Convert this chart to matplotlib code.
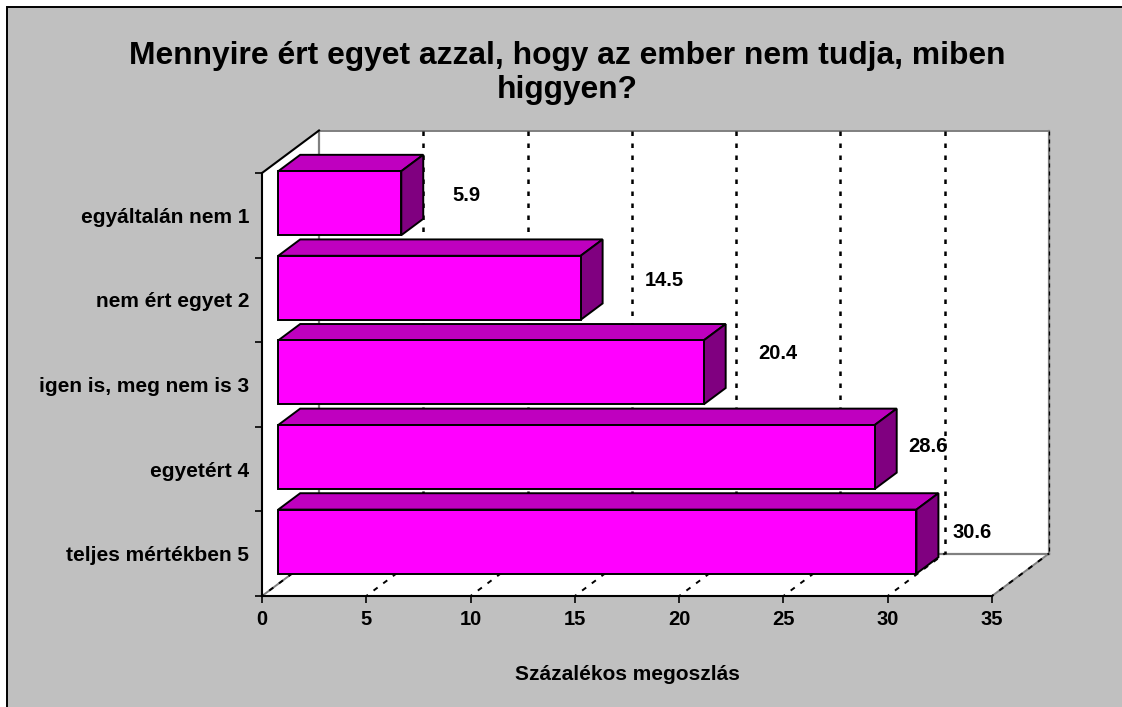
import matplotlib
matplotlib.use('Agg')
import matplotlib.pyplot as plt
from matplotlib.patches import Polygon, Rectangle

plt.rcParams['font.family'] = ['Liberation Sans', 'DejaVu Sans']
plt.rcParams['font.weight'] = 'bold'

kategoriak = ['egyáltalán nem 1', 'nem ért egyet 2', 'igen is, meg nem is 3', 'egyetért 4', 'teljes mértékben 5']
ertekek = [5.9, 14.5, 20.4, 28.6, 30.6]
x_osztas = [0, 5, 10, 15, 20, 25, 30, 35]
cim = 'Mennyire ért egyet azzal, hogy az ember nem tudja, miben\nhiggyen?'
x_cim = 'Százalékos megoszlás'

W, H = 1122, 707
LILA = '#FF00FF'
LILA_TETO = '#BF00BF'
LILA_OLDAL = '#800080'
SZURKE = '#C0C0C0'
VONAL = '#808080'

fig = plt.figure(figsize=(W / 100, H / 100), dpi=100, facecolor='white')
# keret: csak bal es felso oldalon latszik
fig.add_artist(Rectangle((7 / W, -0.05), 1.1, 1.05 - 7 / H, transform=fig.transFigure,
                         facecolor=SZURKE, edgecolor='black', linewidth=1.4, zorder=-5))

ax = fig.add_axes([262 / W, 1 - 596 / H, 730 / W, 423 / H], facecolor='none')
ax.set_xlim(0, 35)
ax.set_ylim(5, 0)

# 3D eltolas adategysegben
dx, dy = 57 / (730 / 35), -42.5 / (423 / 5)
n = len(kategoriak)


def lap(pontok, szin, el='black', lw=1.4, z=2):
    ax.add_patch(Polygon(pontok, closed=True, facecolor=szin, edgecolor=el, linewidth=lw,
                         clip_on=False, zorder=z, joinstyle='miter'))


# falak es padlo
lap([(dx, dy), (35 + dx, dy), (35 + dx, n + dy), (dx, n + dy)], 'white', el='none', z=1)
lap([(0, 0), (dx, dy), (dx, n + dy), (0, n)], 'white', el='none', z=1)
lap([(0, n), (35, n), (35 + dx, n + dy), (dx, n + dy)], 'white', el='none', z=1)

# szurke szelek
ax.plot([dx, dx, 35 + dx], [dy, n + dy, n + dy], color=VONAL, lw=1.6, clip_on=False, zorder=1.4)
ax.plot([dx, 35 + dx], [dy, dy], color=VONAL, lw=1.4, clip_on=False, zorder=1.4)
ax.plot([35 + dx, 35 + dx], [dy, n + dy], color=VONAL, lw=1.6, clip_on=False, zorder=1.4)
ax.plot([0, dx], [n, n + dy], color=VONAL, lw=1.4, clip_on=False, zorder=1.4)
ax.plot([35, 35 + dx], [n, n + dy], color=VONAL, lw=1.4, clip_on=False, zorder=1.4)
ax.plot([0, dx], [0, dy], color='black', lw=1.5, clip_on=False, zorder=1.6)

# racsvonalak
for v in x_osztas:
    if v > 0:
        vas, minta = (0.9, (3.2, 3.2)) if v == 35 else (1.8, (1.8, 3))
        ax.plot([v + dx, v + dx], [dy, n + dy], color='black', lw=vas, ls=(0, minta),
                clip_on=False, zorder=1.5, dash_capstyle='butt')
    ax.plot([v, v + dx], [n, n + dy], color='black', lw=1.4, ls=(1.54, (2.6, 3.6)),
            clip_on=False, zorder=1.5, dash_capstyle='butt')

# oszlopok, felulrol lefele
eleje, hatulja = 0.285, 0.67
magas = 64 / (423 / 5)
for i, v in enumerate(ertekek):
    x0 = eleje * dx
    x1 = x0 + v
    felso = i + 0.5 - magas / 2 + eleje * dy
    also = felso + magas
    mx, my = (hatulja - eleje) * dx, (hatulja - eleje) * dy
    z = 3 + i
    lap([(x0, felso), (x1, felso), (x1 + mx, felso + my), (x0 + mx, felso + my)], LILA_TETO, z=z)
    lap([(x1, felso), (x1 + mx, felso + my), (x1 + mx, also + my), (x1, also)], LILA_OLDAL, z=z)
    lap([(x0, felso), (x1, felso), (x1, also), (x0, also)], LILA, z=z)

# ertekcimkek, kezzel elhelyezve mint az eredetin (pont)
cimke_dx = [58.3, 71.7, 65, 50, 52]
cimke_dy = [14.3, 14.3, 22.3, 16.3, 15.5]
for i, v in enumerate(ertekek):
    ax.annotate(f'{v:.1f}', (v, i + 0.5), xytext=(cimke_dx[i], cimke_dy[i]), textcoords='offset points',
                ha='center', va='center', fontsize=14.5, annotation_clip=False, zorder=20)

# tengelyek
for s in ('top', 'right'):
    ax.spines[s].set_visible(False)
for s in ('left', 'bottom'):
    ax.spines[s].set_linewidth(1.5)
    ax.spines[s].set_zorder(15)
ax.set_xticks(x_osztas)
ax.tick_params(axis='x', length=5, width=1.2, pad=5, labelsize=14.5)
ax.set_yticks(range(n + 1))
ax.set_yticklabels([])
ax.tick_params(axis='y', which='major', length=5, width=1.2)
ax.set_yticks([i + 0.5 for i in range(n)], minor=True)
ax.set_yticklabels(kategoriak, minor=True, fontsize=15)
ax.tick_params(axis='y', which='minor', length=0, pad=9)
ax.set_xlabel(x_cim, fontsize=15, fontweight='bold', labelpad=26)

fig.text(567 / W, 1 - 73 / H, cim, ha='center', va='center', fontsize=22.9, linespacing=1.16)

fig.savefig('out.png', dpi=100, facecolor=fig.get_facecolor())
